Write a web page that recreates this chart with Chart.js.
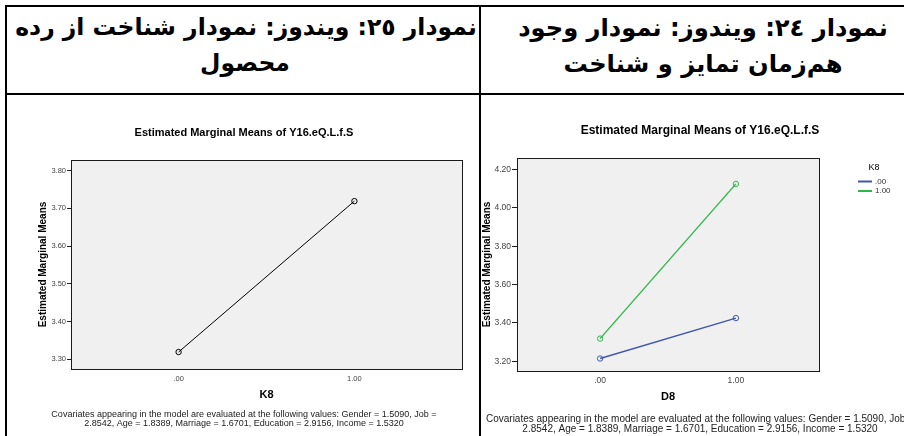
<!DOCTYPE html>
<html><head><meta charset="utf-8">
<script src="https://cdn.jsdelivr.net/npm/chart.js@4.4.1/dist/chart.umd.min.js"></script>
<style>
html,body{margin:0;padding:0;background:#fff;width:904px;height:436px;overflow:hidden;position:relative}
.ln{position:absolute;background:#000}
.hd{position:absolute;direction:rtl;text-align:center;font-family:"DejaVu Sans";font-weight:bold;color:#000;white-space:nowrap;transform:translate(-50%,-50%);line-height:1}
canvas{position:absolute}
</style></head><body>
<div class="ln" style="left:5px;top:5px;width:899px;height:2px"></div>
<div class="ln" style="left:5px;top:5px;width:2px;height:431px"></div>
<div class="ln" style="left:479px;top:5px;width:2px;height:431px"></div>
<div class="ln" style="left:5px;top:93px;width:899px;height:2px"></div>

<div class="hd" style="left:703px;top:28px;font-size:24.2px">نمودار ٢٤: ویندوز: نمودار وجود</div>
<div class="hd" style="left:703px;top:64px;font-size:24.2px">هم‌زمان تمایز و شناخت</div>
<div class="hd" style="left:246px;top:28px;font-size:23.5px">نمودار ٢٥: ویندوز: نمودار شناخت از رده</div>
<div class="hd" style="left:245px;top:64px;font-size:23.5px">محصول</div>

<div style="position:absolute;left:7px;top:95px;width:472px;height:341px"><canvas id="c1"></canvas></div>
<div style="position:absolute;left:481px;top:95px;width:423px;height:341px"><canvas id="c2"></canvas></div>

<script>
// ---- data ----
const chartTitle = 'Estimated Marginal Means of Y16.eQ.L.f.S';
const yAxisTitle = 'Estimated Marginal Means';
const covariateLines = [
  'Covariates appearing in the model are evaluated at the following values: Gender = 1.5090, Job =',
  '2.8542, Age = 1.8389, Marriage = 1.6701, Education = 2.9156, Income = 1.5320'
];

// Chart 25 (left): means by K8
const k8Levels = [0, 1];
const k8TickLabels = ['.00', '1.00'];
const meansByK8 = [3.319, 3.719];
const leftYTicks = [3.30, 3.40, 3.50, 3.60, 3.70, 3.80];

// Chart 24 (right): means by D8, separate lines for K8
const d8Levels = [0, 1];
const d8TickLabels = ['.00', '1.00'];
const k8GroupLabels = ['.00', '1.00'];
const meansK8Zero = [3.214, 3.425];
const meansK8One = [3.318, 4.125];
const rightYTicks = [3.20, 3.40, 3.60, 3.80, 4.00, 4.20];

const SANS = '"Liberation Sans", Arial, sans-serif';

const plotFrame = {
  id: 'plotFrame',
  beforeDraw(chart) {
    const {ctx, chartArea: a} = chart;
    ctx.save();
    ctx.fillStyle = '#f0f0f0';
    ctx.fillRect(a.left, a.top, a.right - a.left, a.bottom - a.top);
    ctx.restore();
  },
  beforeDatasetsDraw(chart) {
    const {ctx, chartArea: a} = chart;
    ctx.save();
    ctx.strokeStyle = '#1a1a1a';
    ctx.lineWidth = 1;
    ctx.strokeRect(Math.round(a.left) + 0.5, Math.round(a.top) + 0.5, Math.round(a.right - a.left), Math.round(a.bottom - a.top));
    ctx.restore();
  }
};

const texts = {
  id: 'texts',
  afterDraw(chart, args, o) {
    const ctx = chart.ctx;
    ctx.save();
    ctx.fillStyle = '#000';
    ctx.textAlign = 'center';
    ctx.textBaseline = 'middle';
    ctx.font = 'bold ' + o.titleSize + 'px ' + SANS;
    ctx.fillText(chartTitle, o.cx, o.titleY);
    ctx.fillStyle = '#222';
    ctx.font = o.noteSize + 'px ' + SANS;
    covariateLines.forEach((t, i) => ctx.fillText(t, o.cx, o.noteY[i]));
    if (o.legend) {
      const L = o.legend;
      ctx.fillStyle = '#000';
      ctx.font = L.headSize + 'px ' + SANS;
      ctx.fillText(L.head, L.headX, L.headY);
      ctx.textAlign = 'left';
      ctx.font = L.size + 'px ' + SANS;
      chart.data.datasets.forEach((ds, i) => {
        const y = L.y0 + i * L.dy;
        ctx.strokeStyle = ds.borderColor;
        ctx.lineWidth = 2;
        ctx.beginPath(); ctx.moveTo(L.x0, y); ctx.lineTo(L.x1, y); ctx.stroke();
        ctx.fillStyle = '#333';
        ctx.fillText(ds.label, L.tx, y);
      });
    }
    ctx.restore();
  }
};

function scales(o) {
  return {
    x: {
      type: 'linear', min: -0.612, max: 1.612,
      afterBuildTicks: s => { s.ticks = o.xLevels.map(v => ({value: v})); },
      ticks: {callback: (v) => o.xLabels[o.xLevels.indexOf(v)], font: {family: SANS, size: o.tickSize}, color: '#444', padding: o.xPad, maxRotation: 0, autoSkip: false},
      grid: {display: false, drawTicks: false},
      border: {display: false},
      title: {display: true, text: o.xTitle, font: {family: SANS, size: 11, weight: 'bold'}, color: '#000', padding: 0},
      afterFit: s => { s.height = o.xH; }
    },
    y: {
      type: 'linear', min: o.yMin, max: o.yMax,
      afterBuildTicks: s => { s.ticks = o.yTicks.map(v => ({value: v})); },
      ticks: {callback: v => v.toFixed(2), font: {family: SANS, size: o.tickSize}, color: '#444', padding: 1},
      grid: {drawOnChartArea: false, drawTicks: true, tickLength: o.tickLen, color: '#222', lineWidth: 1},
      border: {display: false},
      title: {display: true, text: yAxisTitle, font: {family: SANS, size: 10, weight: 'bold'}, color: '#000', padding: 0},
      afterFit: s => { s.width = o.yW; }
    }
  };
}

function series(label, xs, ys, color, bw) {
  return {
    label, data: xs.map((x, i) => ({x, y: ys[i]})),
    borderColor: color, backgroundColor: 'transparent', borderWidth: bw,
    pointRadius: 2.7, pointBorderColor: color, pointBackgroundColor: 'transparent', pointBorderWidth: 1,
    pointHoverRadius: 2.7, tension: 0, fill: false
  };
}

new Chart(document.getElementById('c1'), {
  type: 'line',
  data: {datasets: [series('K8', k8Levels, meansByK8, '#000', 1)]},
  options: {
    responsive: true, maintainAspectRatio: false, animation: false, events: [],
    layout: {padding: {left: 30, right: 17, top: 65, bottom: 34}},
    plugins: {legend: {display: false}, tooltip: {enabled: false},
      texts: {cx: 237, titleY: 38, titleSize: 11, noteSize: 9, noteY: [320, 329]}},
    scales: scales({xLevels: k8Levels, xLabels: k8TickLabels, xTitle: 'K8', xPad: 5, xH: 33, tickSize: 7.5,
      yMin: 3.274, yMax: 3.828, yTicks: leftYTicks, tickLen: 4, yW: 34})
  },
  plugins: [plotFrame, texts]
});

new Chart(document.getElementById('c2'), {
  type: 'line',
  data: {datasets: [
    series(k8GroupLabels[0], d8Levels, meansK8Zero, '#3e58ac', 1.4),
    series(k8GroupLabels[1], d8Levels, meansK8One, '#2eb848', 1.4)
  ]},
  options: {
    responsive: true, maintainAspectRatio: false, animation: false, events: [],
    layout: {padding: {left: 0, right: 85, top: 63, bottom: 32}},
    plugins: {legend: {display: false}, tooltip: {enabled: false},
      texts: {cx: 219, titleY: 36, titleSize: 12, noteSize: 10, noteY: [324, 334],
        legend: {head: 'K8', headX: 393, headY: 73, headSize: 9, size: 8, x0: 377, x1: 391, tx: 394, y0: 86.5, dy: 9.5}}},
    scales: scales({xLevels: d8Levels, xLabels: d8TickLabels, xTitle: 'D8', xPad: 5, xH: 33, tickSize: 8.5,
      yMin: 3.149, yMax: 4.26, yTicks: rightYTicks, tickLen: 5, yW: 36})
  },
  plugins: [plotFrame, texts]
});
</script>
</body></html>
